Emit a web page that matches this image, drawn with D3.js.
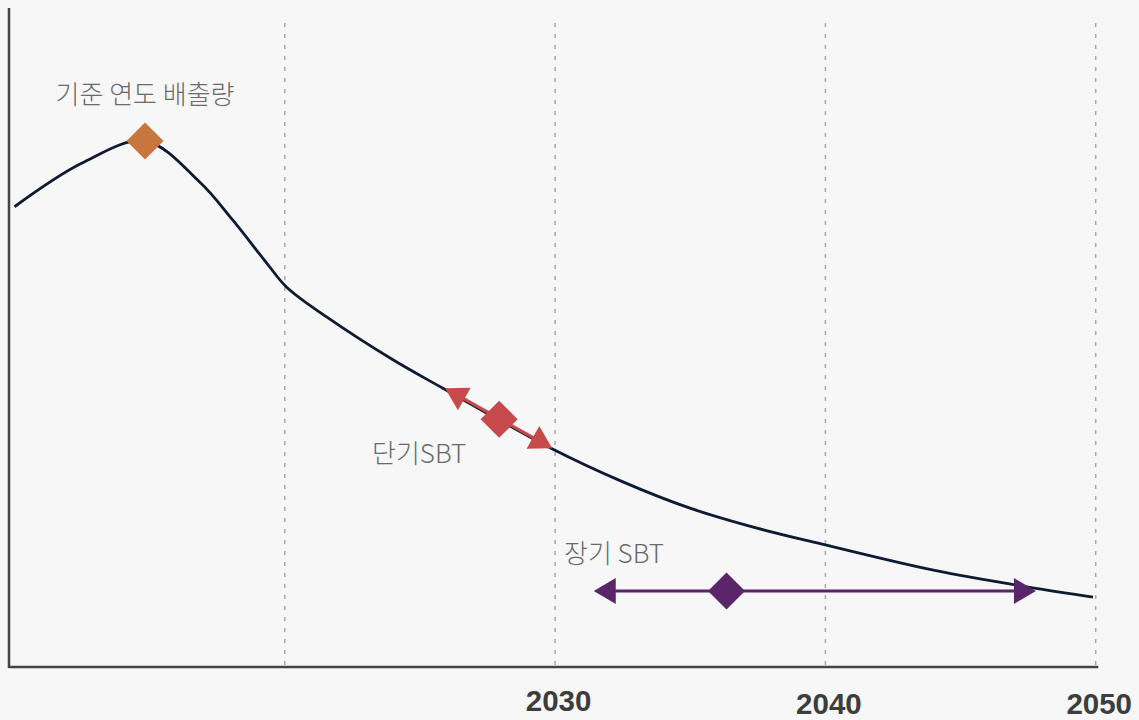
<!DOCTYPE html>
<html>
<head>
<meta charset="utf-8">
<script src="https://cdn.jsdelivr.net/npm/d3@7"></script>
<style>
  html, body { margin: 0; padding: 0; background: #f7f7f7; }
  svg { display: block; }
</style>
</head>
<body>
<div id="chart"></div>
<script>
// ---- data ----
const curveYears  = [2010.0, 2012.5, 2014.83, 2016.85, 2018.07, 2019.33, 2020.07, 2021.56, 2024.0, 2025.85, 2029.85, 2032.51, 2034.99, 2037.47, 2040.0, 2044.0, 2047.5, 2049.9];
const curveValues = [87.5,   95.8,   100.0,   92.2,    85.0,    76.8,    72.2,    66.5,    58.4,   53.0,    41.6,    35.2,    30.2,    26.4,    23.2,   18.4,   15.2,   13.3];

const gridYears  = [2020, 2030, 2040, 2050];
const tickYears  = [2030, 2040, 2050];
const tickLabels = ["2030", "2040", "2050"];

const baseYear = 2014.83, baseValue = 100;
const shortStart = [2025.93, 53.0], shortEnd = [2029.89, 41.6], shortMid = [2027.93, 47.1];
const longStart  = [2031.43, 14.45], longEnd = [2047.79, 14.45], longMid = [2036.34, 14.45];

const labelTexts = ["기준 연도 배출량", "단기SBT", "장기 SBT"];

// ---- setup ----
const W = 1139, H = 720;
const svg = d3.select("#chart").append("svg").attr("width", W).attr("height", H);
svg.append("rect").attr("width", W).attr("height", H).attr("fill", "#f7f7f7");

const x = d3.scaleLinear().domain([2010, 2050]).range([14.5, 1095.7]);
const y = d3.scaleLinear().domain([0, 100]).range([667, 141]);

const axisY = y(0);
const axisLeft = 9;

// gridlines
svg.append("g").selectAll("line").data(gridYears).join("line")
  .attr("x1", d => x(d)).attr("x2", d => x(d))
  .attr("y1", 23).attr("y2", axisY)
  .attr("stroke", "#a9a9a9").attr("stroke-width", 1.5)
  .attr("stroke-dasharray", "4,7");

// axes
svg.append("line").attr("x1", axisLeft).attr("x2", axisLeft).attr("y1", 8).attr("y2", axisY + 1)
  .attr("stroke", "#444").attr("stroke-width", 2.5);
svg.append("line").attr("x1", axisLeft).attr("x2", x(2050) + 2.5).attr("y1", axisY).attr("y2", axisY)
  .attr("stroke", "#444").attr("stroke-width", 2.5);

// tick labels
svg.append("g").selectAll("text").data(tickYears).join("text")
  .attr("x", d => x(d) + 3.5).attr("y", (d, i) => i === 0 ? 711 : 714)
  .attr("text-anchor", "middle")
  .attr("font-family", "'Liberation Sans', Arial, sans-serif")
  .attr("font-weight", "bold").attr("font-size", 29.5)
  .attr("fill", "#3d3d3d")
  .text((d, i) => tickLabels[i]);

// main curve
const pts = curveYears.map((d, i) => [d, curveValues[i]]);
const line = d3.line().x(d => x(d[0])).y(d => y(d[1])).curve(d3.curveCatmullRom.alpha(0.5));
svg.append("path").datum(pts).attr("d", line)
  .attr("fill", "none").attr("stroke", "#0e1b33").attr("stroke-width", 2.8);

// helpers
function diamond(cx, cy, r, color) {
  svg.append("path")
    .attr("d", `M${cx},${cy - r}L${cx + r},${cy}L${cx},${cy + r}L${cx - r},${cy}Z`)
    .attr("fill", color);
}
function arrow(a, b, color, lw) {
  const x1 = x(a[0]), y1 = y(a[1]), x2 = x(b[0]), y2 = y(b[1]);
  const dx = x2 - x1, dy = y2 - y1, L = Math.hypot(dx, dy);
  const ux = dx / L, uy = dy / L, px = -uy, py = ux;
  const len = 22, hw = 13;
  svg.append("line")
    .attr("x1", x1 + ux * len * 0.8).attr("y1", y1 + uy * len * 0.8)
    .attr("x2", x2 - ux * len * 0.8).attr("y2", y2 - uy * len * 0.8)
    .attr("stroke", color).attr("stroke-width", lw);
  const bx1 = x1 + ux * len, by1 = y1 + uy * len;
  svg.append("path")
    .attr("d", `M${x1},${y1}L${bx1 + px * hw},${by1 + py * hw}L${bx1 - px * hw},${by1 - py * hw}Z`)
    .attr("fill", color);
  const bx2 = x2 - ux * len, by2 = y2 - uy * len;
  svg.append("path")
    .attr("d", `M${x2},${y2}L${bx2 + px * hw},${by2 + py * hw}L${bx2 - px * hw},${by2 - py * hw}Z`)
    .attr("fill", color);
}

// base-year marker
diamond(x(baseYear), y(baseValue), 18.5, "#c9763e");

// short-term SBT
arrow(shortStart, shortEnd, "#c64a4c", 3);
diamond(x(shortMid[0]), y(shortMid[1]), 18.5, "#c64a4c");

// long-term SBT
arrow(longStart, longEnd, "#5a256b", 3.2);
diamond(x(longMid[0]), y(longMid[1]), 18.5, "#5a256b");

// labels
const labelFont = "'Noto Sans CJK KR', 'Noto Sans', sans-serif";
svg.append("text").attr("x", x(baseYear)).attr("y", 104)
  .attr("text-anchor", "middle").attr("font-family", labelFont)
  .attr("font-weight", 300).attr("font-size", 26).attr("fill", "#6a6a6a")
  .text(labelTexts[0]);
svg.append("text").attr("x", 372).attr("y", 463)
  .attr("font-family", labelFont)
  .attr("font-weight", 300).attr("font-size", 26).attr("fill", "#6a6a6a")
  .text(labelTexts[1]);
svg.append("text").attr("x", 564).attr("y", 563)
  .attr("font-family", labelFont)
  .attr("font-weight", 300).attr("font-size", 26).attr("fill", "#6a6a6a")
  .text(labelTexts[2]);
</script>
</body>
</html>
